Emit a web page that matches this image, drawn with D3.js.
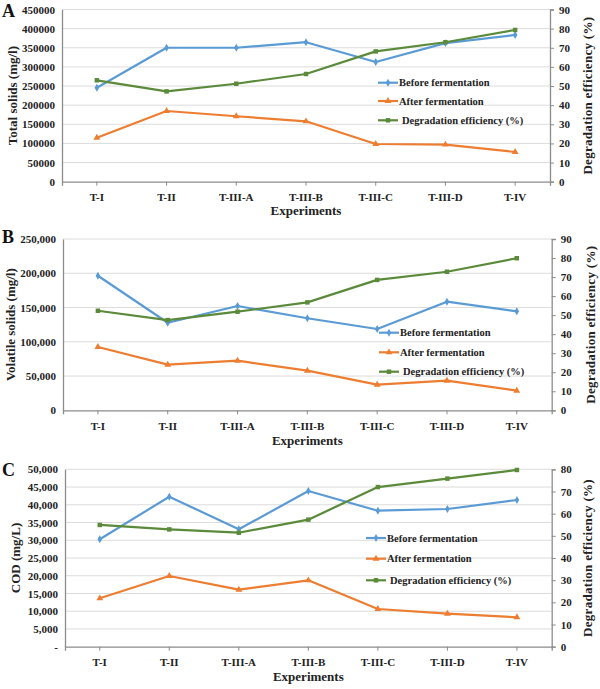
<!DOCTYPE html>
<html><head><meta charset="utf-8">
<script src="https://cdn.jsdelivr.net/npm/d3@7"></script>
<style>body{margin:0;background:#fff}svg{display:block}</style>
</head><body>
<svg id="c" width="600" height="689"></svg>
<script>
const categories = ["T-I","T-II","T-III-A","T-III-B","T-III-C","T-III-D","T-IV"];
const seriesNames = ["Before fermentation","After fermentation","Degradation efficiency (%)"];

// Panel A: Total solids
const tsBefore = [245500, 350000, 350000, 364500, 312800, 362000, 383500];
const tsAfter  = [115000, 184700, 171000, 157800, 98500, 97000, 77600];
const tsDeg    = [53.0, 47.2, 51.2, 56.3, 68.1, 72.9, 79.3];
const tsLeftTicks = [0,50000,100000,150000,200000,250000,300000,350000,400000,450000];
const tsRightTicks = [0,10,20,30,40,50,60,70,80,90];

// Panel B: Volatile solids
const vsBefore = [196400, 127800, 152200, 134300, 118700, 158500, 144500];
const vsAfter  = [92400, 66600, 72400, 57800, 37400, 43200, 28600];
const vsDeg    = [52.3, 47.4, 51.8, 56.7, 68.5, 72.8, 79.9];
const vsLeftTicks = [0,50000,100000,150000,200000,250000];
const vsRightTicks = [0,10,20,30,40,50,60,70,80,90];

// Panel C: COD
const codBefore = [30270, 42280, 33090, 43880, 38330, 38810, 41350];
const codAfter  = [13640, 19930, 16070, 18710, 10630, 9300, 8290];
const codDeg    = [54.9, 52.9, 51.4, 57.3, 72.0, 75.8, 79.7];
const codLeftTicks = [0,5000,10000,15000,20000,25000,30000,35000,40000,45000,50000];
const codRightTicks = [0,10,20,30,40,50,60,70,80];

const colors = ["#5B9BD5","#ED7D31","#5A8A3A"];
const FONT = "'Liberation Serif','Times New Roman',serif";
const svg = d3.select("#c");

const panels = [
  {letter:"A", ly:17, left:62, right:550, top:9.5, bottom:181.7,
   lmax:450000, lticks:tsLeftTicks, lfmt:d3.format("d"), rmax:90, rticks:tsRightTicks,
   data:[tsBefore,tsAfter,tsDeg], ytitle:"Total solids  (mg/l)", ytx:12,
   legX:378, legY:[82.7,101,120.3], catY:197, expY:215, rtx:587},
  {letter:"B", ly:243, left:63, right:551.7, top:239, bottom:410.3,
   lmax:250000, lticks:vsLeftTicks, lfmt:d3.format(","), rmax:90, rticks:vsRightTicks,
   data:[vsBefore,vsAfter,vsDeg], ytitle:"Volatile solids  (mg/l)", ytx:10,
   legX:379, legY:[332.7,352.3,371.7], catY:426, expY:445, rtx:590},
  {letter:"C", ly:476, left:65, right:551.7, top:469.3, bottom:646.7,
   lmax:50000, lticks:codLeftTicks, lfmt:d => d===0 ? "-" : d3.format(",")(d), rmax:80, rticks:codRightTicks,
   data:[codBefore,codAfter,codDeg], ytitle:"COD (mg/L)", ytx:15,
   legX:366, legY:[538,558.7,580.3], catY:662, expY:681, rtx:587}
];

function marker(g, type, x, y, color){
  const sym = type===0 ? d3.symbolDiamond : type===1 ? d3.symbolTriangle : d3.symbolSquare;
  const size = type===0 ? 18 : 20;
  g.append("path").attr("d", d3.symbol(sym, size)()).attr("transform",`translate(${x},${y})`).attr("fill",color);
}

panels.forEach(p => {
  const g = svg.append("g");
  const x = d3.scaleBand().domain(categories).range([p.left, p.right]);
  const yL = d3.scaleLinear().domain([0, p.lmax]).range([p.bottom, p.top]);
  const yR = d3.scaleLinear().domain([0, p.rmax]).range([p.bottom, p.top]);

  // gridlines
  g.selectAll(".grid").data(p.lticks.filter(t=>t>0)).join("line")
    .attr("x1", p.left).attr("x2", p.right)
    .attr("y1", d=>yL(d)).attr("y2", d=>yL(d))
    .attr("stroke","#dcdcdc").attr("stroke-width",1);

  // left axis
  const la = g.append("g").attr("transform",`translate(${p.left},0)`)
    .call(d3.axisLeft(yL).tickValues(p.lticks).tickFormat(p.lfmt).tickSize(0).tickPadding(7));
  la.select(".domain").attr("stroke","#8c8c8c").attr("stroke-width",1.3);
  la.selectAll("text").attr("font-family",FONT).attr("font-weight","bold").attr("font-size",11).attr("fill","#222");

  // right axis
  const ra = g.append("g").attr("transform",`translate(${p.right},0)`)
    .call(d3.axisRight(yR).tickValues(p.rticks).tickSize(4).tickPadding(5));
  ra.select(".domain").attr("stroke","#8c8c8c").attr("stroke-width",1.3);
  ra.selectAll("line").attr("stroke","#8c8c8c");
  ra.selectAll("text").attr("font-family",FONT).attr("font-weight","bold").attr("font-size",11).attr("fill","#222");

  // bottom axis
  const ba = g.append("g").attr("transform",`translate(0,${p.bottom})`)
    .call(d3.axisBottom(x).tickSize(4).tickPadding(8).tickSizeOuter(4));
  ba.select(".domain").attr("stroke","#8c8c8c").attr("stroke-width",1.3);
  ba.selectAll("line").attr("stroke","#8c8c8c");
  ba.selectAll("text").attr("font-family",FONT).attr("font-weight","bold").attr("font-size",11).attr("fill","#222");

  // series
  p.data.forEach((vals, i) => {
    const ys = i===2 ? yR : yL;
    const line = d3.line().x((d,j)=>x(categories[j])+x.bandwidth()/2).y(d=>ys(d));
    g.append("path").datum(vals).attr("d", line).attr("fill","none")
      .attr("stroke", colors[i]).attr("stroke-width",2.2).attr("stroke-linejoin","round");
    vals.forEach((v,j) => marker(g, i, x(categories[j])+x.bandwidth()/2, ys(v), colors[i]));
  });

  // legend
  seriesNames.forEach((name,i) => {
    const ly = p.legY[i];
    g.append("line").attr("x1",p.legX).attr("x2",p.legX+20).attr("y1",ly).attr("y2",ly)
      .attr("stroke",colors[i]).attr("stroke-width",2.2);
    marker(g, i, p.legX+10, ly, colors[i]);
    g.append("text").attr("x", p.legX + (i===2 ? 24 : 21)).attr("y", ly).attr("dy","0.35em")
      .attr("font-family",FONT).attr("font-weight","bold").attr("font-size",10.5)
      .attr("fill","#222").text(name);
  });

  // titles
  g.append("text").attr("x",(p.left+p.right)/2).attr("y",p.expY)
    .attr("text-anchor","middle").attr("font-family",FONT).attr("font-weight","bold").attr("font-size",13)
    .attr("fill","#222").text("Experiments");
  const cy = (p.top+p.bottom)/2;
  g.append("text").attr("transform",`translate(${p.ytx},${cy}) rotate(-90)`).attr("dy","0.35em")
    .attr("text-anchor","middle").attr("font-family",FONT).attr("font-weight","bold").attr("font-size",13)
    .attr("fill","#222").text(p.ytitle);
  g.append("text").attr("transform",`translate(${p.rtx},${cy}) rotate(-90)`).attr("dy","0.35em")
    .attr("text-anchor","middle").attr("font-family",FONT).attr("font-weight","bold").attr("font-size",13)
    .attr("letter-spacing","0.3px").attr("fill","#222").text("Degradation efficiency  (%)");
  g.append("text").attr("x",2).attr("y",p.ly).attr("font-family",FONT).attr("font-weight","bold")
    .attr("font-size",18).attr("fill","#111").text(p.letter);
});
</script>
</body></html>
